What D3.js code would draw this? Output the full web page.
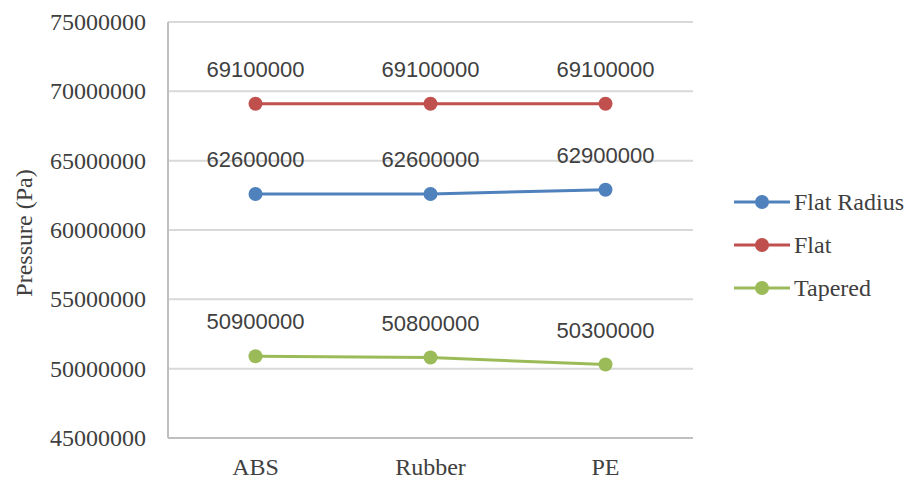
<!DOCTYPE html>
<html>
<head>
<meta charset="utf-8">
<script src="https://cdn.jsdelivr.net/npm/d3@7.9.0/dist/d3.min.js"></script>
<style>
  body { margin: 0; background: #fff; }
  svg { display: block; }
  .serif { font-family: "Liberation Serif", "Times New Roman", "DejaVu Serif", serif; }
  .sans { font-family: "Liberation Sans", Arial, sans-serif; }
</style>
</head>
<body>
<svg width="911" height="479"></svg>
<script>
// data
const categories = ['ABS', 'Rubber', 'PE'];
const seriesNames = ['Flat Radius', 'Flat', 'Tapered'];
const flatRadius = [62600000, 62600000, 62900000];
const flat = [69100000, 69100000, 69100000];
const tapered = [50900000, 50800000, 50300000];
const yTicks = [45000000, 50000000, 55000000, 60000000, 65000000, 70000000, 75000000];
const colorsList = ['#4f81bd', '#c0504d', '#9bbb59'];

const series = [flatRadius, flat, tapered].map((values, i) => ({
  name: seriesNames[i], values: values, color: colorsList[i]
}));

const svg = d3.select('svg');
const plotLeft = 168, plotRight = 693, plotTop = 22, plotBottom = 438;

let x = d3.scaleBand().domain(categories).range([plotLeft, plotRight]);
let y = d3.scaleLinear().domain([45000000, 75000000]).range([plotBottom, plotTop]);

// gridlines
svg.append('g')
  .selectAll('line')
  .data(yTicks.slice(1))
  .join('line')
  .attr('x1', plotLeft).attr('x2', plotRight)
  .attr('y1', (d) => y(d)).attr('y2', (d) => y(d))
  .attr('stroke', '#d9d9d9')
  .attr('stroke-width', 2);

// axes
svg.append('line')
  .attr('x1', plotLeft).attr('x2', plotLeft).attr('y1', plotTop).attr('y2', plotBottom)
  .attr('stroke', '#bfbfbf').attr('stroke-width', 2);
svg.append('line')
  .attr('x1', plotLeft).attr('x2', plotRight).attr('y1', plotBottom).attr('y2', plotBottom)
  .attr('stroke', '#bfbfbf').attr('stroke-width', 2);

svg.append('g')
  .selectAll('text')
  .data(yTicks)
  .join('text')
  .attr('class', 'serif')
  .attr('x', 146)
  .attr('y', (d) => y(d) + 8)
  .attr('text-anchor', 'end')
  .attr('font-size', 24)
  .attr('fill', '#404040')
  .text((d) => d);

svg.append('g')
  .selectAll('text')
  .data(categories)
  .join('text')
  .attr('class', 'serif')
  .attr('x', (d) => x(d) + x.bandwidth() / 2)
  .attr('y', 475)
  .attr('text-anchor', 'middle')
  .attr('font-size', 24)
  .attr('fill', '#404040')
  .text((d) => d);

svg.append('text')
  .attr('class', 'serif')
  .attr('transform', 'translate(32,233) rotate(-90)')
  .attr('text-anchor', 'middle')
  .attr('font-size', 24)
  .attr('fill', '#404040')
  .text('Pressure (Pa)');

const cx = (i) => x(categories[i]) + x.bandwidth() / 2;
let line = d3.line().x((d, i) => cx(i)).y((d) => y(d));

series.forEach((s) => {
  let g = svg.append('g');
  g.append('path')
    .attr('d', line(s.values))
    .attr('fill', 'none')
    .attr('stroke', s.color)
    .attr('stroke-width', 3);
  g.selectAll('circle')
    .data(s.values)
    .join('circle')
    .attr('cx', (d, i) => cx(i))
    .attr('cy', (d) => y(d))
    .attr('r', 7)
    .attr('fill', s.color);
  g.selectAll('text')
    .data(s.values)
    .join('text')
    .attr('class', 'sans')
    .attr('x', (d, i) => cx(i))
    .attr('y', (d) => y(d) - 27)
    .attr('text-anchor', 'middle')
    .attr('font-size', 22)
    .attr('fill', '#404040')
    .text((d) => d);
});

// legend
let legend = svg.append('g');
series.forEach((s, i) => {
  let ly = 202 + i * 43;
  legend.append('line')
    .attr('x1', 734).attr('x2', 790).attr('y1', ly).attr('y2', ly)
    .attr('stroke', s.color).attr('stroke-width', 3);
  legend.append('circle')
    .attr('cx', 762).attr('cy', ly).attr('r', 7).attr('fill', s.color);
  legend.append('text')
    .attr('class', 'serif')
    .attr('x', 794).attr('y', ly + 8)
    .attr('font-size', 24)
    .attr('fill', '#404040')
    .text(s.name);
});
</script>
</body>
</html>
